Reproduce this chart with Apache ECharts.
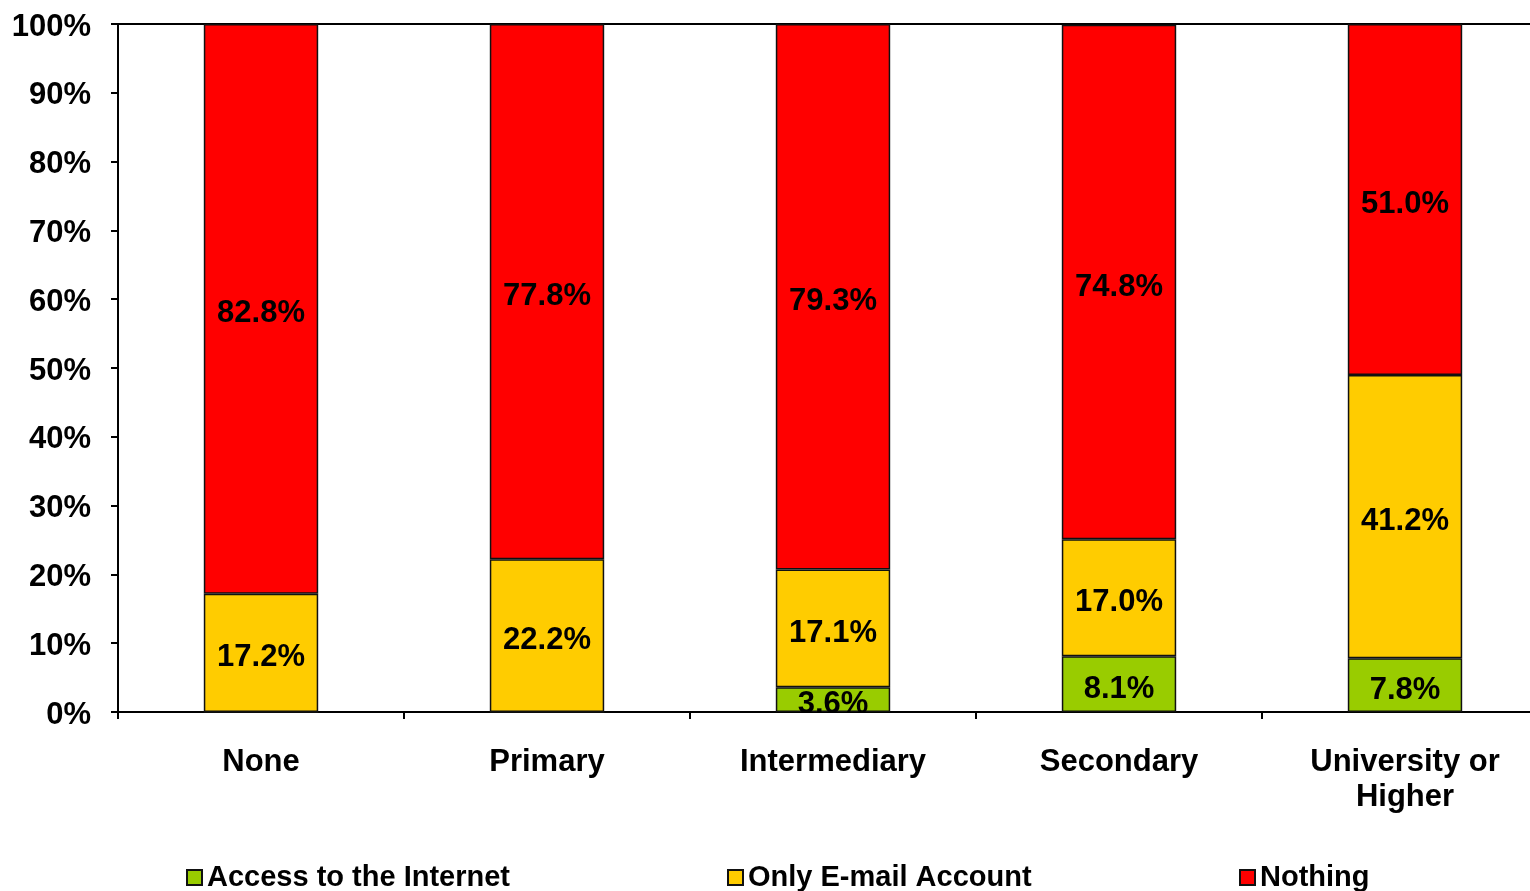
<!DOCTYPE html>
<html><head><meta charset="utf-8">
<script src="https://cdn.jsdelivr.net/npm/echarts@6/dist/echarts.min.js"></script>
<style>html,body{margin:0;padding:0;background:#fff;overflow:hidden}#c{width:1560px;height:891px}</style>
</head><body><div id="c"></div>
<script>
const categories = ['None', 'Primary', 'Intermediary', 'Secondary', 'University or\nHigher'];
const internet = [0, 0, 3.6, 8.1, 7.8];
const emailOnly = [17.2, 22.2, 17.1, 17.0, 41.2];
const nothing = [82.8, 77.8, 79.3, 74.8, 51.0];
const seriesNames = ['Access to the Internet', 'Only E-mail Account', 'Nothing'];
const colors = ['#99CC00', '#FFCC00', '#FF0000'];

const FONT = '"Liberation Sans", Arial, sans-serif';
const chart = echarts.init(document.getElementById('c'));
const lbl = {
  show: true, position: 'inside', offset: [0, 5], color: '#000', fontFamily: FONT, fontWeight: 'bold', fontSize: 31,
  formatter: p => p.value ? p.value.toFixed(1) + '%' : ''
};
function mk(name, data, color) {
  return {
    name, type: 'bar', stack: 's', data, barWidth: '40%',
    itemStyle: { color, borderColor: '#111', borderWidth: 1.5 },
    label: lbl
  };
}
const legendBase = {
  orient: 'horizontal', top: 863, padding: 0, itemWidth: 15, itemHeight: 15, itemGap: 7, icon: 'rect',
  textStyle: { fontFamily: FONT, fontWeight: 'bold', fontSize: 29, color: '#000' },
  selectedMode: false
};
chart.setOption({
  animation: false,
  backgroundColor: '#fff',
  grid: { left: 118, right: 12, top: 24, bottom: 179, show: true, borderColor: '#000', borderWidth: 2, backgroundColor: 'transparent' },
  legend: [
    Object.assign({}, legendBase, { left: 186, data: [seriesNames[0]] }),
    Object.assign({}, legendBase, { left: 727, data: [seriesNames[1]] }),
    Object.assign({}, legendBase, { left: 1239, data: [seriesNames[2]] })
  ],
  xAxis: {
    type: 'category', data: categories,
    axisLine: { lineStyle: { color: '#000', width: 2 } },
    axisTick: { show: true, length: 7, lineStyle: { color: '#000', width: 2 } },
    axisLabel: { fontFamily: FONT, fontWeight: 'bold', fontSize: 31, color: '#000', margin: 33, lineHeight: 35 }
  },
  yAxis: {
    type: 'value', min: 0, max: 100, interval: 10,
    axisLine: { show: true, lineStyle: { color: '#000', width: 2 } },
    axisTick: { show: true, length: 7, lineStyle: { color: '#000', width: 2 } },
    splitLine: { show: false },
    axisLabel: {
      fontFamily: FONT, fontWeight: 'bold', fontSize: 31, color: '#000', margin: 27,
      formatter: v => '{a|' + v + '%}',
      rich: { a: { fontFamily: FONT, fontWeight: 'bold', fontSize: 31, color: '#000', padding: [6, 0, 0, 0] } }
    }
  },
  series: [
    mk(seriesNames[0], internet, colors[0]),
    mk(seriesNames[1], emailOnly, colors[1]),
    mk(seriesNames[2], nothing, colors[2])
  ]
});
</script></body></html>
